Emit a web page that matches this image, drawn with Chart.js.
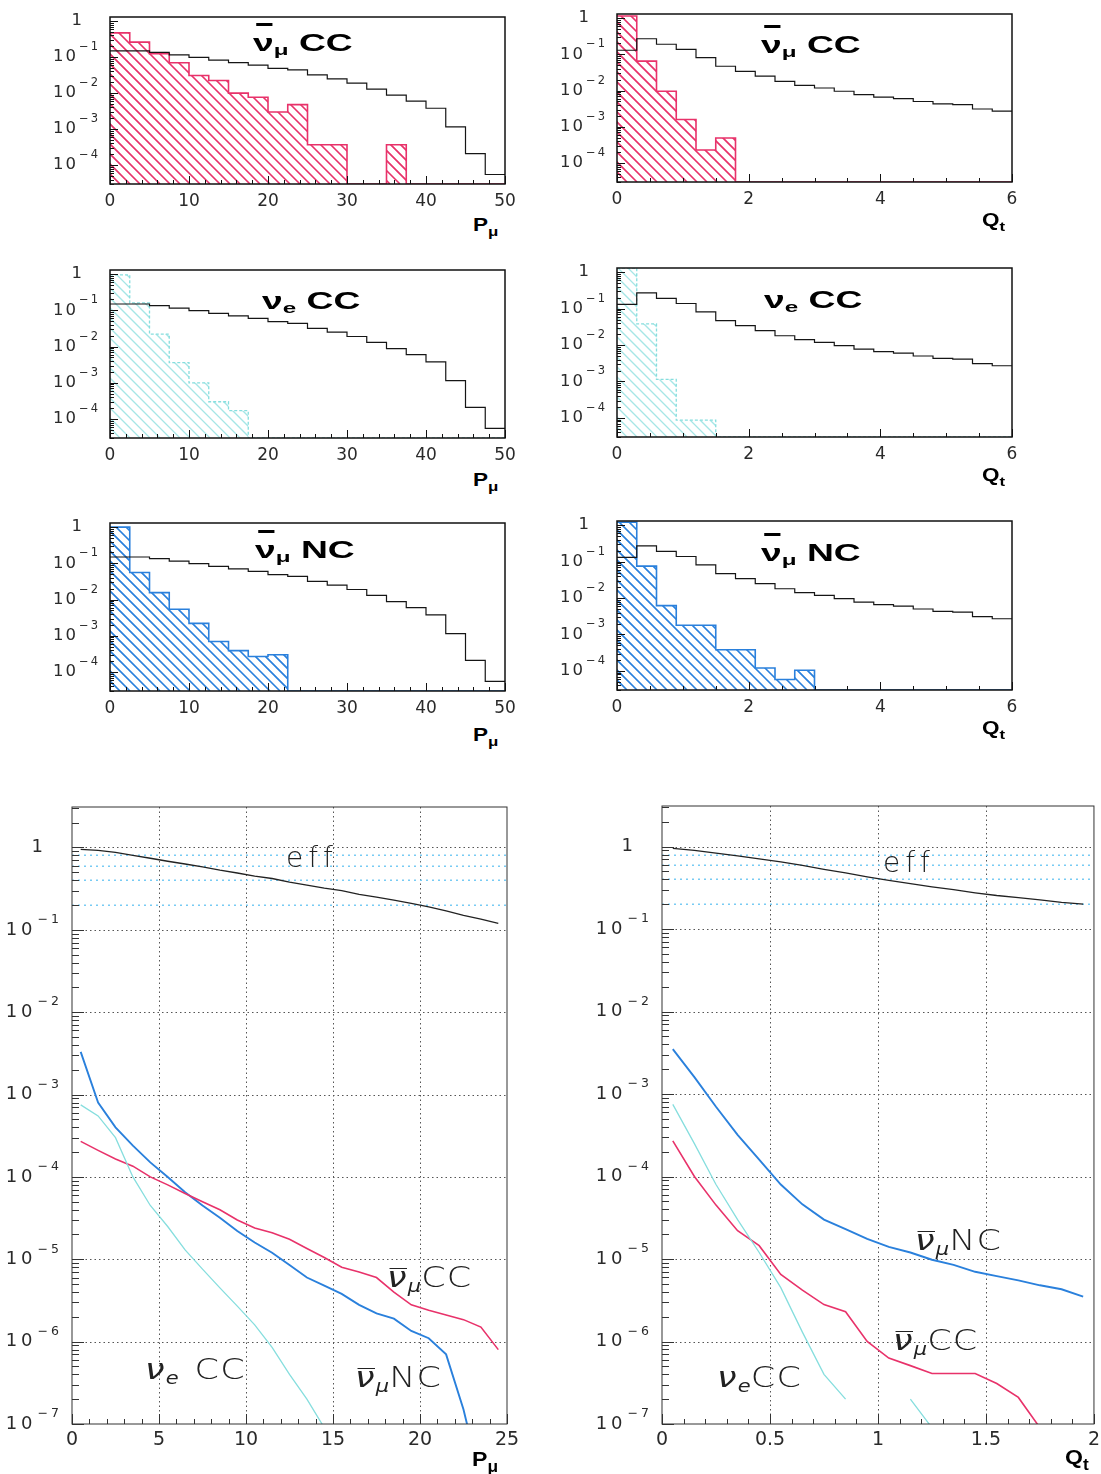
<!DOCTYPE html>
<html>
<head>
<meta charset="utf-8">
<script src="https://cdn.jsdelivr.net/npm/chart.js@4.4.1/dist/chart.umd.min.js"></script>
<style>
html, body { margin:0; padding:0; background:#fff; }
body { width:1101px; height:1474px; position:relative; overflow:hidden; }
canvas { position:absolute; }
.t { position:absolute; white-space:nowrap; line-height:1; color:#000; z-index:5; }
.ttl { font: bold 23px 'Liberation Sans', Arial, sans-serif; transform: scaleX(1.62); transform-origin: 0 0; }
.ax { font: bold 18px 'Liberation Sans', Arial, sans-serif; transform: scaleX(1.25); transform-origin: 0 0; }
.axb { font: bold 21px 'Liberation Sans', Arial, sans-serif; transform: scaleX(1.1); transform-origin: 0 0; }
.sub { font-size:0.65em; position:relative; top:0.3em; }
.ax .sub, .axb .sub { font-size:0.75em; top:0.35em; }
.bar { position:relative; }
.bar::before { content:''; position:absolute; left:0.08em; right:0.02em; top:-0.32em; border-top:3px solid currentColor; }
.lb { font: 200 28px 'DejaVu Sans', sans-serif; letter-spacing:1px; color:#222; transform: scaleX(1.25); transform-origin: 0 0; }
.lb .nu { font-style: italic; }
.lb .sub { font-size:0.6em; top:0.3em; letter-spacing:0; font-style: italic; }
.lb .bar::before { border-top-width:1.5px; top:0.25em; }
.lb .sp { display:inline-block; width:0.45em; }
.eff { font: 200 28px 'DejaVu Sans', sans-serif; letter-spacing:5px; color:#222; }
</style>
</head>
<body>
<!-- panel titles -->
<div class="t ttl" style="left:253px;top:30px"><span class="bar">ν</span><span class="sub">μ</span> CC</div>
<div class="t ttl" style="left:761px;top:32px"><span class="bar">ν</span><span class="sub">μ</span> CC</div>
<div class="t ttl" style="left:262px;top:288px">ν<span class="sub">e</span> CC</div>
<div class="t ttl" style="left:764px;top:287px">ν<span class="sub">e</span> CC</div>
<div class="t ttl" style="left:255px;top:537px"><span class="bar">ν</span><span class="sub">μ</span> NC</div>
<div class="t ttl" style="left:761px;top:540px"><span class="bar">ν</span><span class="sub">μ</span> NC</div>
<!-- axis titles -->
<div class="t ax" style="left:473px;top:215px">P<span class="sub">μ</span></div>
<div class="t ax" style="left:473px;top:470px">P<span class="sub">μ</span></div>
<div class="t ax" style="left:473px;top:725px">P<span class="sub">μ</span></div>
<div class="t ax" style="left:982px;top:210px">Q<span class="sub">t</span></div>
<div class="t ax" style="left:982px;top:465px">Q<span class="sub">t</span></div>
<div class="t ax" style="left:982px;top:718px">Q<span class="sub">t</span></div>
<div class="t axb" style="left:472px;top:1447px">P<span class="sub">μ</span></div>
<div class="t axb" style="left:1065px;top:1445px">Q<span class="sub">t</span></div>
<!-- curve labels -->
<div class="t eff" style="left:286px;top:841px">eff</div>
<div class="t eff" style="left:883px;top:846px">eff</div>
<div class="t lb" style="left:387px;top:1261px"><span class="nu bar">ν</span><span class="sub">μ</span>CC</div>
<div class="t lb" style="left:145px;top:1353px"><span class="nu">ν</span><span class="sub">e</span><span class="sp"></span>CC</div>
<div class="t lb" style="left:355px;top:1361px"><span class="nu bar">ν</span><span class="sub">μ</span>NC</div>
<div class="t lb" style="left:915px;top:1224px"><span class="nu bar">ν</span><span class="sub">μ</span>NC</div>
<div class="t lb" style="left:893px;top:1324px"><span class="nu bar">ν</span><span class="sub">μ</span>CC</div>
<div class="t lb" style="left:717px;top:1361px"><span class="nu">ν</span><span class="sub">e</span>CC</div>

<script>
// ---------------- DATA ----------------
// histogram bin edges
const pBinEdges = [0,2.5,5,7.5,10,12.5,15,17.5,20,22.5,25,27.5,30,32.5,35,37.5,40,42.5,45,47.5,50];
const qBinEdges = [0,0.3,0.6,0.9,1.2,1.5,1.8,2.1,2.4,2.7,3.0,3.3,3.6,3.9,4.2,4.5,4.8,5.1,5.4,5.7,6.0];
// signal (black) histograms
const sigP = [0.15,0.15,0.135,0.115,0.098,0.083,0.07,0.06,0.049,0.044,0.032,0.025,0.019,0.013,0.0088,0.006,0.0038,0.00115,0.00021,0.000055];
const sigQ = [0.13,0.27,0.19,0.138,0.081,0.047,0.034,0.025,0.018,0.014,0.0118,0.0096,0.0077,0.0066,0.006,0.005,0.0043,0.0041,0.0031,0.0027];
// background (hatched) histograms
const numuCC_P = [0.47,0.26,0.124,0.07,0.031,0.0224,0.010,0.0077,0.0030,0.0048,0.00037,0.00037,0,0,0.00037,0,0,0,0,0];
const numuCC_Q = [1.15,0.065,0.0096,0.0016,0.00023,0.00049,0,0,0,0,0,0,0,0,0,0,0,0,0,0];
const nueCC_P  = [0.95,0.16,0.022,0.0036,0.001,0.0003,0.00017,0,0,0,0,0,0,0,0,0,0,0,0,0];
const nueCC_Q  = [1.3,0.038,0.00114,0.000087,0.000087,0,0,0,0,0,0,0,0,0,0,0,0,0,0,0];
const numuNC_P = [1.0,0.056,0.0156,0.0054,0.0022,0.0007,0.00039,0.00027,0.0003,0,0,0,0,0,0,0,0,0,0,0];
const numuNC_Q = [1.2,0.075,0.0062,0.0018,0.0018,0.00038,0.00038,0.00012,0.000058,0.000104,0,0,0,0,0,0,0,0,0,0];

// efficiency / rejection curves
const pCenters = [0.5,1.5,2.5,3.5,4.5,5.5,6.5,7.5,8.5,9.5,10.5,11.5,12.5,13.5,14.5,15.5,16.5,17.5,18.5,19.5,20.5,21.5,22.5,23.5,24.5];
const effP        = [0.95,0.92,0.87,0.80,0.74,0.68,0.63,0.58,0.53,0.49,0.45,0.42,0.38,0.35,0.32,0.30,0.27,0.25,0.23,0.21,0.19,0.17,0.15,0.135,0.12];
const lineNumuCC_P = [2.7e-4,2.1e-4,1.65e-4,1.35e-4,1.0e-4,8e-5,6.3e-5,5e-5,4e-5,3e-5,2.4e-5,2.1e-5,1.75e-5,1.35e-5,1.05e-5,8e-6,7e-6,6e-6,4e-6,2.8e-6,2.4e-6,2.1e-6,1.85e-6,1.5e-6,8e-7];
const lineNumuNC_P = [3.3e-3,8e-4,4e-4,2.4e-4,1.5e-4,1.0e-4,6.5e-5,4.5e-5,3.2e-5,2.2e-5,1.6e-5,1.2e-5,8.5e-6,6e-6,4.8e-6,3.8e-6,2.8e-6,2.2e-6,1.9e-6,1.35e-6,1.1e-6,7e-7,1.5e-7,2e-8,null];
const lineNueCC_P  = [7.5e-4,5.5e-4,3e-4,1e-4,4.5e-5,2.5e-5,1.3e-5,7.6e-6,4.5e-6,2.7e-6,1.6e-6,8.5e-7,4e-7,2e-7,9e-8,null,null,null,null,null,null,null,null,null,null];

const qCenters = [0.05,0.15,0.25,0.35,0.45,0.55,0.65,0.75,0.85,0.95,1.05,1.15,1.25,1.35,1.45,1.55,1.65,1.75,1.85,1.95];
const effQ        = [0.95,0.90,0.83,0.77,0.71,0.65,0.59,0.53,0.48,0.43,0.39,0.355,0.325,0.30,0.275,0.255,0.24,0.225,0.21,0.20];
const lineNumuNC_Q = [3.5e-3,1.6e-3,7e-4,3.2e-4,1.6e-4,8e-5,4.6e-5,3e-5,2.3e-5,1.75e-5,1.4e-5,1.2e-5,9.8e-6,8.5e-6,7e-6,6.2e-6,5.5e-6,4.8e-6,4.3e-6,3.5e-6];
const lineNumuCC_Q = [2.7e-4,1.0e-4,4.5e-5,2.2e-5,1.45e-5,6.5e-6,4.2e-6,2.8e-6,2.3e-6,1.0e-6,6.3e-7,5.1e-7,4.1e-7,4.1e-7,4.1e-7,3.1e-7,2.1e-7,9e-8,3e-8,null];
const lineNueCC_Q  = [7.5e-4,2.5e-4,8e-5,3e-5,1.2e-5,4.5e-6,1.3e-6,4e-7,2e-7,null,null,2e-7,9e-8,null,null,null,null,null,null,null];

// tick values and labels ([mantissa, exponent])
const topYTicks  = [1e-4,1e-3,1e-2,1e-1,1];
const topYLabels = [['10','−4'],['10','−3'],['10','−2'],['10','−1'],['1','']];
const botYTicks  = [1e-7,1e-6,1e-5,1e-4,1e-3,1e-2,1e-1,1];
const botYLabels = [['10','−7'],['10','−6'],['10','−5'],['10','−4'],['10','−3'],['10','−2'],['10','−1'],['1','']];
const pTicksTop  = [0,10,20,30,40,50];
const pLabelsTop = ['0','10','20','30','40','50'];
const qTicksTop  = [0,2,4,6];
const qLabelsTop = ['0','2','4','6'];
const pTicksBot  = [0,5,10,15,20,25];
const pLabelsBot = ['0','5','10','15','20','25'];
const qTicksBot  = [0,0.5,1,1.5,2];
const qLabelsBot = ['0','0.5','1','1.5','2'];
const effGuides  = [0.8,0.6,0.4,0.2];

// ---------------- STYLE / LAYOUT ----------------
const RED = '#e8326a', BLUE = '#2a80dc', CYAN = '#86dede';
const TOP_YMIN = 3e-5, TOP_YMAX = 1.3;
const BOT_YMIN = 1e-7, BOT_YMAX = 3.1;

// hatch fill under a stepped histogram, using the points Chart.js placed
const hatchFill = {
  id: 'hatchFill',
  beforeDatasetDraw(chart, args) {
    const ds = chart.data.datasets[args.index];
    if (!ds.hatchColor) return;
    const pts = args.meta.data;
    if (!pts.length) return;
    const a = chart.chartArea, ctx = chart.ctx, base = a.bottom;
    ctx.save();
    ctx.beginPath(); ctx.rect(a.left, a.top, a.right - a.left, a.bottom - a.top); ctx.clip();
    ctx.beginPath();
    ctx.moveTo(pts[0].x, base);
    for (let i = 0; i < pts.length; i++) {
      ctx.lineTo(pts[i].x, pts[i].y);
      if (i + 1 < pts.length) ctx.lineTo(pts[i + 1].x, pts[i].y);
    }
    ctx.lineTo(pts[pts.length - 1].x, base);
    ctx.closePath();
    ctx.clip();
    ctx.strokeStyle = ds.hatchColor; ctx.lineWidth = ds.hatchWidth;
    const H = a.bottom - a.top, W = a.right - a.left, sp = ds.hatchSpacing;
    ctx.beginPath();
    for (let c = -H; c < W; c += sp) {
      ctx.moveTo(a.left + c, a.top); ctx.lineTo(a.left + c + H, a.top + H);
    }
    ctx.stroke();
    ctx.beginPath();
    ctx.restore();
  }
};

const deco = {
  id: 'deco',
  beforeDatasetsDraw(chart, args, o) {
    const {ctx, chartArea: a} = chart;
    const xs = chart.scales.x, ys = chart.scales.y;
    ctx.save();
    const hLines = (vals, color, dash, lw, off) => {
      ctx.strokeStyle = color; ctx.setLineDash(dash); ctx.lineWidth = lw;
      for (const v of vals) {
        const p = Math.round(ys.getPixelForValue(v)) + off;
        ctx.beginPath(); ctx.moveTo(a.left, p); ctx.lineTo(a.right, p); ctx.stroke();
      }
    };
    if (o.gridX && o.gridX.length) {
      ctx.strokeStyle = o.gridColor; ctx.setLineDash(o.gridDash); ctx.lineWidth = 1;
      for (const v of o.gridX) {
        const p = Math.round(xs.getPixelForValue(v)) + 0.5;
        ctx.beginPath(); ctx.moveTo(p, a.top); ctx.lineTo(p, a.bottom); ctx.stroke();
      }
    }
    if (o.gridY && o.gridY.length) hLines(o.gridY, o.gridColor, o.gridDash, 1, 0.5);
    if (o.guideY && o.guideY.length) hLines(o.guideY, o.guideColor, o.guideDash, 1.5, 0.25);
    ctx.beginPath();
    ctx.restore();
  },
  afterDatasetsDraw(chart, args, o) {
    const {ctx, chartArea: a} = chart;
    const xs = chart.scales.x, ys = chart.scales.y;
    ctx.save();
    ctx.strokeStyle = o.tickColor; ctx.lineWidth = 1;
    ctx.beginPath();
    const n = Math.round((xs.max - xs.min) / o.xMinor);
    for (let i = 0; i <= n; i++) {
      const v = xs.min + i * o.xMinor;
      const r = v / o.xMajor;
      const major = Math.abs(r - Math.round(r)) < 1e-6;
      const p = Math.round(xs.getPixelForValue(v)) + 0.5;
      ctx.moveTo(p, a.bottom); ctx.lineTo(p, a.bottom - (major ? o.xMajorLen : o.xMinorLen));
    }
    const lo = Math.floor(Math.log10(ys.min)), hi = Math.ceil(Math.log10(ys.max));
    for (let e = lo; e <= hi; e++) {
      for (let k = 1; k <= 9; k++) {
        const v = k * Math.pow(10, e);
        if (v < ys.min || v > ys.max) continue;
        const p = Math.round(ys.getPixelForValue(v)) + 0.5;
        ctx.moveTo(a.left, p); ctx.lineTo(a.left + (k === 1 ? o.yMajorLen : o.yMinorLen), p);
      }
    }
    ctx.stroke();
    ctx.beginPath();
    ctx.strokeStyle = o.frameColor; ctx.lineWidth = o.frameWidth;
    ctx.strokeRect(a.left, a.top, a.right - a.left, a.bottom - a.top);
    ctx.restore();
  },
  afterDraw(chart, args, o) {
    // y tick labels "10" with raised exponent, placed at the scale's pixel for each tick
    const {ctx, chartArea: a} = chart;
    const ys = chart.scales.y;
    ctx.save();
    ctx.fillStyle = o.labelColor; ctx.textBaseline = 'middle'; ctx.textAlign = 'right';
    const xEnd = a.left - o.labelPad;
    o.yTickVals.forEach((v, i) => {
      const lab = o.yTickLabels[i];
      const y = ys.getPixelForValue(v);
      if (lab[1]) {
        ctx.font = o.expSize + 'px "DejaVu Sans"';
        ctx.letterSpacing = o.expSpacing + 'px';
        const ew = ctx.measureText(lab[1]).width;
        ctx.fillText(lab[1], xEnd, y - o.expRaise);
        ctx.font = o.baseSize + 'px "DejaVu Sans"';
        ctx.letterSpacing = o.baseSpacing + 'px';
        ctx.fillText(lab[0], xEnd - ew - 1, y);
      } else {
        ctx.font = o.baseSize + 'px "DejaVu Sans"';
        ctx.letterSpacing = '0px';
        ctx.fillText(lab[0], xEnd - o.oneOffset, y);
      }
    });
    ctx.restore();
  }
};

function placeCanvas(g, yW, padT, padR, xH) {
  const c = document.createElement('canvas');
  const w = (g.R - g.L) + yW + padR, h = (g.B - g.T) + padT + xH;
  c.width = w; c.height = h;
  c.style.left = (g.L - yW) + 'px'; c.style.top = (g.T - padT) + 'px';
  c.style.width = w + 'px'; c.style.height = h + 'px';
  document.body.appendChild(c);
  return c;
}

function idxLabel(list) { return (v, i) => list[i]; }

function histChart(g, edges, sig, bkg, st, xMax, xTicks, xLabels, xMinor, xMajor) {
  const cv = placeCanvas(g, 70, 12, 25, 30);
  const steps = vals => {
    const pts = vals.map((v, i) => ({x: edges[i], y: v > 0 ? v : TOP_YMIN}));
    pts.push({x: edges[vals.length], y: pts[pts.length - 1].y});
    return pts;
  };
  new Chart(cv.getContext('2d'), {
    type: 'line',
    data: { datasets: [
      { data: steps(sig), borderColor: '#151515', borderWidth: 1.2, stepped: 'before', fill: false, pointRadius: 0 },
      { data: steps(bkg), borderColor: st.line, borderWidth: st.lw, borderDash: st.dash, stepped: 'before',
        fill: false, pointRadius: 0, hatchColor: st.hatch, hatchWidth: st.hlw, hatchSpacing: 10 }
    ]},
    options: {
      responsive: false, animation: false, devicePixelRatio: 1,
      layout: { padding: { top: 12, right: 25, left: 0, bottom: 0 } },
      plugins: { legend: { display: false }, tooltip: { enabled: false },
        deco: { tickColor: '#111', frameColor: '#111', frameWidth: 1.5, xMinor: xMinor, xMajor: xMajor,
                xMinorLen: 4, xMajorLen: 8, yMinorLen: 4, yMajorLen: 8,
                yTickVals: topYTicks, yTickLabels: topYLabels, labelColor: '#2a2a2a', labelPad: 10,
                baseSize: 16.5, baseSpacing: 2, expSize: 11.5, expSpacing: 2, expRaise: 10, oneOffset: 18 } },
      scales: {
        x: { type: 'linear', min: 0, max: xMax,
             grid: { display: false, drawTicks: false }, border: { display: false },
             afterBuildTicks: s => { s.ticks = xTicks.map(v => ({value: v})); },
             afterFit: s => { s.height = 30; },
             ticks: { padding: 7, autoSkip: false, maxRotation: 0, color: '#2a2a2a',
                      font: { family: 'DejaVu Sans', size: 17 }, callback: idxLabel(xLabels) } },
        y: { type: 'logarithmic', min: TOP_YMIN, max: TOP_YMAX,
             grid: { display: false, drawTicks: false }, border: { display: false },
             afterBuildTicks: s => { s.ticks = topYTicks.map(v => ({value: v})); },
             afterFit: s => { s.width = 70; },
             ticks: { display: false } }
      }
    },
    plugins: [hatchFill, deco]
  });
}

function effChart(g, padR, xs, series, xMax, xTicks, xLabels, xMinor, xMajor) {
  const cv = placeCanvas(g, 72, 15, padR, 30);
  new Chart(cv.getContext('2d'), {
    type: 'line',
    data: { datasets: series.map(s => ({
      data: xs.map((x, i) => ({x: x, y: s.vals[i]})),
      borderColor: s.color, borderWidth: s.w, pointRadius: 0, tension: 0, fill: false, spanGaps: false
    })) },
    options: {
      responsive: false, animation: false, devicePixelRatio: 1,
      layout: { padding: { top: 15, right: padR, left: 0, bottom: 0 } },
      plugins: { legend: { display: false }, tooltip: { enabled: false },
        deco: { tickColor: '#333', frameColor: '#333', frameWidth: 1, xMinor: xMinor, xMajor: xMajor,
                xMinorLen: 5, xMajorLen: 10, yMinorLen: 7, yMajorLen: 12,
                gridX: xTicks.slice(1, -1), gridY: botYTicks.slice(1), gridColor: '#555', gridDash: [1.5, 3],
                guideY: effGuides, guideColor: '#78cbf4', guideDash: [2, 4],
                yTickVals: botYTicks, yTickLabels: botYLabels, labelColor: '#2a2a2a', labelPad: 10,
                baseSize: 18, baseSpacing: 4, expSize: 12.5, expSpacing: 3, expRaise: 10, oneOffset: 19 } },
      scales: {
        x: { type: 'linear', min: 0, max: xMax,
             grid: { display: false, drawTicks: false }, border: { display: false },
             afterBuildTicks: s => { s.ticks = xTicks.map(v => ({value: v})); },
             afterFit: s => { s.height = 30; },
             ticks: { padding: 5, autoSkip: false, maxRotation: 0, color: '#2a2a2a',
                      font: { family: 'DejaVu Sans', size: 19 }, callback: idxLabel(xLabels) } },
        y: { type: 'logarithmic', min: BOT_YMIN, max: BOT_YMAX,
             grid: { display: false, drawTicks: false }, border: { display: false },
             afterBuildTicks: s => { s.ticks = botYTicks.map(v => ({value: v})); },
             afterFit: s => { s.width = 72; },
             ticks: { display: false } }
      }
    },
    plugins: [deco]
  });
}

const redSt  = { line: RED,  lw: 1.6, dash: [],     hatch: RED,       hlw: 1.6 };
const cyanSt = { line: CYAN, lw: 1.3, dash: [3, 2], hatch: '#a6e6e6', hlw: 1.3 };
const blueSt = { line: BLUE, lw: 1.6, dash: [],     hatch: BLUE,      hlw: 1.6 };

histChart({L:110, T:17,  R:505,  B:184}, pBinEdges, sigP, numuCC_P, redSt,  50, pTicksTop, pLabelsTop, 2, 10);
histChart({L:617, T:14,  R:1012, B:182}, qBinEdges, sigQ, numuCC_Q, redSt,  6,  qTicksTop, qLabelsTop, 0.5, 2);
histChart({L:110, T:270, R:505,  B:438}, pBinEdges, sigP, nueCC_P,  cyanSt, 50, pTicksTop, pLabelsTop, 2, 10);
histChart({L:617, T:268, R:1012, B:437}, qBinEdges, sigQ, nueCC_Q,  cyanSt, 6,  qTicksTop, qLabelsTop, 0.5, 2);
histChart({L:110, T:523, R:505,  B:691}, pBinEdges, sigP, numuNC_P, blueSt, 50, pTicksTop, pLabelsTop, 2, 10);
histChart({L:617, T:521, R:1012, B:690}, qBinEdges, sigQ, numuNC_Q, blueSt, 6,  qTicksTop, qLabelsTop, 0.5, 2);

effChart({L:72, T:807, R:507, B:1424}, 20, pCenters, [
  { vals: effP,         color: '#222', w: 1.3 },
  { vals: lineNueCC_P,  color: CYAN,   w: 1.3 },
  { vals: lineNumuCC_P, color: RED,    w: 1.6 },
  { vals: lineNumuNC_P, color: BLUE,   w: 1.9 }
], 25, pTicksBot, pLabelsBot, 1, 5);

effChart({L:662, T:806, R:1095, B:1424}, 10, qCenters, [
  { vals: effQ,         color: '#222', w: 1.3 },
  { vals: lineNueCC_Q,  color: CYAN,   w: 1.3 },
  { vals: lineNumuCC_Q, color: RED,    w: 1.6 },
  { vals: lineNumuNC_Q, color: BLUE,   w: 1.9 }
], 2, qTicksBot, qLabelsBot, 0.1, 0.5);
</script>
</body>
</html>
